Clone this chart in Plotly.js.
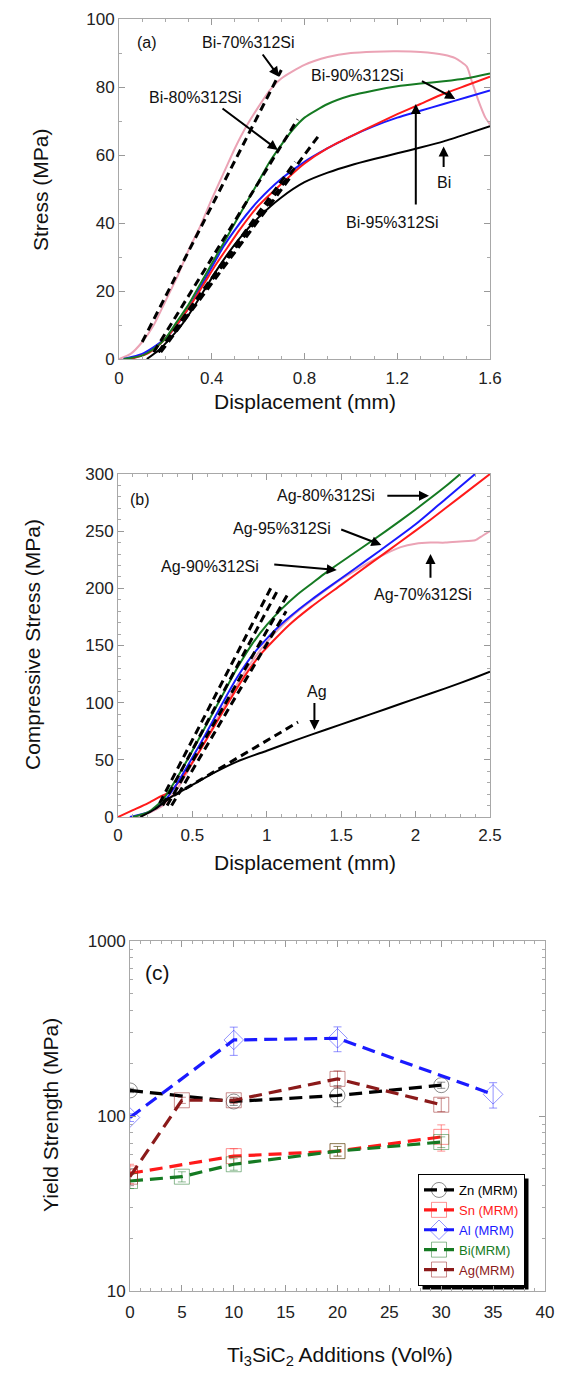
<!DOCTYPE html>
<html><head><meta charset="utf-8">
<script src="https://cdn.plot.ly/plotly-3.0.1.min.js"></script>
<style>html,body{margin:0;padding:0;background:#fff}#chart{width:563px;height:1382px}</style>
</head><body><div id="chart"></div>
<script>
// ---------- Panel (a): Bi composites ----------
const bi70_x = [0,0.05,0.1,0.15,0.2,0.25,0.3,0.35,0.4,0.45,0.5,0.55,0.6,0.65,0.7,0.8,0.9,1.0,1.1,1.2,1.3,1.4,1.45,1.5,1.52,1.55,1.58,1.6];
const bi70_y = [0,1.5,5,10,17,24,32,39,47,54.5,62,68.5,74,79,82.5,86.5,88.8,90,90.4,90.5,90.3,89.5,88.5,86,82,76,71,69];
const bi80_x = [0.02,0.1,0.15,0.2,0.25,0.3,0.35,0.4,0.45,0.5,0.55,0.6,0.65,0.7,0.75,0.8,0.9,1.0,1.1,1.2,1.3,1.4,1.5,1.6];
const bi80_y = [0,1,3,6,11,16,22,28,34,40,46,52,58,63,67.5,71,75,77.5,79,80.2,81,81.7,82.6,84];
const bi90_x = [0.02,0.1,0.15,0.2,0.25,0.3,0.35,0.4,0.45,0.5,0.55,0.6,0.7,0.8,0.9,1.0,1.1,1.2,1.3,1.4,1.5,1.6];
const bi90_y = [0,1.5,3.5,6,10,15,21,27,33,38,42.5,46.5,53,58,62,65.5,68.5,71,73,75,77,79];
const bi95_x = [0.05,0.12,0.17,0.22,0.27,0.32,0.37,0.42,0.47,0.52,0.6,0.7,0.8,0.9,1.0,1.1,1.2,1.3,1.4,1.5,1.6];
const bi95_y = [0,1.5,4,7.5,12,17,22.5,28,33,38,45,51.5,57.5,62,65.5,68.8,72,75,78,80.5,83];
const bi_x = [0.12,0.17,0.22,0.27,0.32,0.37,0.42,0.47,0.52,0.6,0.7,0.8,0.9,1.0,1.1,1.2,1.3,1.4,1.5,1.6];
const bi_y = [0,2.5,6,10,15,20.5,26,31,35.5,41.5,47.5,52,54.8,57,58.8,60.5,62.2,64,66.2,68.5];
// linear fits (dashed)
const fitA_x = [[0.1,0.70],[0.15,0.77],[0.17,0.87],[0.17,0.76],[0.18,0.74]];
const fitA_y = [[5,85],[2,70.5],[2,66.5],[2,58],[2,53.5]];

// ---------- Panel (b): Ag composites ----------
const ag80_x = [0.1,0.2,0.3,0.4,0.5,0.6,0.7,0.8,0.9,1.0,1.1,1.2,1.3,1.4,1.6,1.8,2.0,2.2,2.3];
const ag80_y = [0,4,15,35,58,82,106,130,151,168,182,194,204,214,232,250,269,289,300];
const ag95_x = [0.08,0.2,0.3,0.4,0.5,0.6,0.7,0.8,0.9,1.0,1.1,1.2,1.3,1.4,1.6,1.75,2.0,2.2,2.4];
const ag95_y = [0,4,12,30,52,75,99,122,141,156,169,180,190,199.5,218,232,256,278,300];
const ag90_x = [0,0.1,0.2,0.27,0.35,0.45,0.55,0.65,0.75,0.85,0.95,1.05,1.15,1.3,1.5,1.7,1.9,2.1,2.3,2.5];
const ag90_y = [0,6,12,17,22,38,58,80,102,123,141,155,168,184,203,222,241,260,280,300];
const ag70_x = [0.1,0.2,0.3,0.4,0.5,0.6,0.7,0.8,0.9,1.0,1.1,1.2,1.35,1.5,1.6,1.75,1.9,2.0,2.1,2.2,2.3,2.4,2.45,2.5];
const ag70_y = [0,3,10,25,47,70,94,116,136,153,167,179,194,208,216,227,236,239,240,240,241,242,246,250];
const ag_x = [0.15,0.25,0.35,0.5,0.65,0.8,1.0,1.2,1.4,1.6,1.8,2.0,2.2,2.4,2.5];
const ag_y = [0,7,17,28,39,48.5,58,67.5,76.5,85.5,94.5,103.5,112.5,122,127];
const fitB_x = [[0.28,1.03],[0.3,1.08],[0.33,1.15],[0.36,1.13],[0.3,1.21]];
const fitB_y = [[12,201],[10,200],[10,197],[10,180],[13,83]];

// ---------- Panel (c): yield strength ----------
const zn_x = [0,10,20,30];      const zn_y = [140,121,131,150]; const zn_e = [4,6,18,6];
const sn_x = [0,10,20,30];      const sn_y = [47,59,63,76];     const sn_e = [6,6,4,13];
const al_x = [0,10,20,35];      const al_y = [98,272,278,133];  const al_e = [5,50,45,22];
const bim_x = [0,5,10,20,30];   const bim_y = [42.5,45,53,63,71]; const bim_e = [4,3,4,4,5];
const agm_x = [0,5,10,20,30];   const agm_y = [45,123,123,163,116]; const agm_e = [5,5,5,18,10];
const c_names = ['Zn (MRM)','Sn (MRM)','Al (MRM)','Bi(MRM)','Ag(MRM)'];

const W = 563, H = 1382;
const PX = v => v / W, PY = v => 1 - v / H;

const PINK = '#eba3b5', GREEN = '#157a22', BLUE = '#1a1aff', RED = '#ff1a1a', BLACK = '#000';
const traces = [];
function line(x, y, color, xa, ya, w, dash) {
  traces.push({x, y, xaxis: xa, yaxis: ya, mode: 'lines', showlegend: false, hoverinfo: 'skip',
    line: {color, width: w || 2, dash: dash || 'solid', shape: 'spline', smoothing: 0.6}});
}
// panel a
line(bi70_x, bi70_y, PINK, 'x', 'y');
line(bi90_x, bi90_y, BLUE, 'x', 'y');
line(bi95_x, bi95_y, RED, 'x', 'y');
line(bi80_x, bi80_y, GREEN, 'x', 'y');
line(bi_x, bi_y, BLACK, 'x', 'y');
fitA_x.forEach((xx, i) => line(xx, fitA_y[i], BLACK, 'x', 'y', 3, '8px,5px'));
// panel b
line(ag70_x, ag70_y, PINK, 'x2', 'y2');
line(ag90_x, ag90_y, RED, 'x2', 'y2');
line(ag95_x, ag95_y, BLUE, 'x2', 'y2');
line(ag80_x, ag80_y, GREEN, 'x2', 'y2');
line(ag_x, ag_y, BLACK, 'x2', 'y2');
fitB_x.forEach((xx, i) => line(xx, fitB_y[i], BLACK, 'x2', 'y2', 3, '8px,5px'));
// panel c
const cSeries = [
  [zn_x, zn_y, zn_e, '#000000', 'rgba(0,0,0,0.45)', 'circle-open'],
  [sn_x, sn_y, sn_e, '#ff1a1a', 'rgba(255,40,40,0.5)', 'square-open'],
  [al_x, al_y, al_e, '#1a1aff', 'rgba(40,40,255,0.5)', 'diamond-open'],
  [bim_x, bim_y, bim_e, '#157a22', 'rgba(30,120,40,0.5)', 'square-open'],
  [agm_x, agm_y, agm_e, '#8b1a1a', 'rgba(150,30,30,0.5)', 'square-open']
];
cSeries.forEach((s, i) => {
  traces.push({x: s[0], y: s[1], xaxis: 'x3', yaxis: 'y3', mode: 'lines+markers',
    name: '<span style="color:' + s[3] + '">' + c_names[i] + '</span>',
    line: {color: s[3], width: 3.2, dash: '13px,7px'},
    marker: {symbol: s[5], size: 15, color: s[4], line: {width: 1}},
    error_y: {type: 'data', array: s[2], visible: true, color: s[4], thickness: 1, width: 4},
    hoverinfo: 'skip'});
});

const FONT = 'Liberation Sans, Arial, Helvetica, sans-serif';
const baseAx = {showline: true, linecolor: '#a8a8a8', linewidth: 1, mirror: 'allticks', ticks: 'inside',
  ticklen: 6, tickcolor: '#999', tickwidth: 1, showgrid: false, zeroline: false,
  tickfont: {family: FONT, size: 17, color: '#222'}, fixedrange: true};
function ax(o) { return Object.assign({}, baseAx, o); }

const ann = [];
function txt(x, y, text, xref, yref, size, extra) {
  ann.push(Object.assign({x, y, xref, yref, text, showarrow: false, xanchor: 'center', yanchor: 'middle',
    font: {family: FONT, size: size || 16, color: '#111'}}, extra || {}));
}
function arrow(x, y, ax_, ay_, xref, yref) {
  ann.push({x, y, ax: ax_, ay: ay_, xref, yref, axref: xref, ayref: yref, text: '',
    showarrow: true, arrowhead: 2, arrowsize: 1, arrowwidth: 2, arrowcolor: '#000', standoff: 0});
}
// panel a labels
txt(0.07, 93, '(a)', 'x', 'y', 16, {xanchor: 'left'});
txt(0.56, 93, 'Bi-70%312Si', 'x', 'y', 16);
arrow(0.69, 83, 0.615, 90, 'x', 'y');
txt(0.33, 77, 'Bi-80%312Si', 'x', 'y', 16);
arrow(0.685, 61.5, 0.44, 74, 'x', 'y');
txt(1.03, 83.5, 'Bi-90%312Si', 'x', 'y', 16);
arrow(1.45, 76.5, 1.30, 82, 'x', 'y');
txt(1.40, 52, 'Bi', 'x', 'y', 16);
arrow(1.40, 62.5, 1.40, 56, 'x', 'y');
txt(1.18, 40, 'Bi-95%312Si', 'x', 'y', 16);
arrow(1.28, 75, 1.28, 45, 'x', 'y');
// panel b labels
txt(0.07, 278, '(b)', 'x2', 'y2', 16, {xanchor: 'left'});
txt(1.40, 281, 'Ag-80%312Si', 'x2', 'y2', 16);
arrow(2.09, 281, 1.80, 281, 'x2', 'y2');
txt(1.10, 252, 'Ag-95%312Si', 'x2', 'y2', 16);
arrow(1.77, 238, 1.49, 252, 'x2', 'y2');
txt(0.62, 219, 'Ag-90%312Si', 'x2', 'y2', 16);
arrow(1.47, 216, 1.04, 221, 'x2', 'y2');
txt(2.05, 195, 'Ag-70%312Si', 'x2', 'y2', 16);
arrow(2.10, 230, 2.10, 208, 'x2', 'y2');
txt(1.34, 110, 'Ag', 'x2', 'y2', 16);
arrow(1.32, 76, 1.32, 101, 'x2', 'y2');
// panel c label
txt(PX(157), PY(972), '(c)', 'paper', 'paper', 21);
// axis titles
txt(PX(40), PY(190), 'Stress (MPa)', 'paper', 'paper', 21, {textangle: -90});
txt(PX(305), PY(401), 'Displacement (mm)', 'paper', 'paper', 21);
txt(PX(32), PY(645), 'Compressive Stress (MPa)', 'paper', 'paper', 21, {textangle: -90});
txt(PX(305), PY(862), 'Displacement (mm)', 'paper', 'paper', 21);
txt(PX(50), PY(1115), 'Yield Strength (MPa)', 'paper', 'paper', 21, {textangle: -90});
txt(PX(340), PY(1356), 'Ti<sub>3</sub>SiC<sub>2</sub> Additions (Vol%)', 'paper', 'paper', 21);

const layout = {
  width: W, height: H, margin: {l: 0, r: 0, t: 0, b: 0}, paper_bgcolor: '#fff', plot_bgcolor: 'rgba(0,0,0,0)',
  font: {family: FONT, color: '#111'},
  xaxis: ax({domain: [PX(119), PX(490)], range: [0, 1.6], anchor: 'y', dtick: 0.4, tick0: 0,
    tickformat: '~g', ticklabelstandoff: 4, minor: {dtick: 0.1, ticks: 'inside', ticklen: 3, tickcolor: '#aaa'}}),
  yaxis: ax({domain: [PY(359), PY(19)], range: [0, 100], anchor: 'x', dtick: 20,
    minor: {dtick: 10, ticks: 'inside', ticklen: 3, tickcolor: '#aaa'}}),
  xaxis2: ax({domain: [PX(118), PX(490)], range: [0, 2.5], anchor: 'y2', dtick: 0.5, tick0: 0,
    ticklabelstandoff: 3, minor: {dtick: 0.1, ticks: 'inside', ticklen: 3, tickcolor: '#aaa'}}),
  yaxis2: ax({domain: [PY(817), PY(474)], range: [0, 300], anchor: 'x2', dtick: 50,
    minor: {dtick: 10, ticks: 'inside', ticklen: 3, tickcolor: '#aaa'}}),
  xaxis3: ax({domain: [PX(130), PX(545)], range: [0, 40], anchor: 'y3', dtick: 5, tick0: 0,
    ticklabelstandoff: 6, minor: {dtick: 1, ticks: 'inside', ticklen: 3, tickcolor: '#aaa'}}),
  yaxis3: ax({domain: [PY(1291), PY(941)], type: 'log', range: [1, 3], anchor: 'x3',
    tickvals: [10, 100, 1000], ticktext: ['10', '100', '1000'],
    minor: {tickvals: [20,30,40,50,60,70,80,90,200,300,400,500,600,700,800,900], ticks: 'inside', ticklen: 3, tickcolor: '#aaa'}}),
  showlegend: true,
  legend: {x: PX(418), y: PY(1174), xanchor: 'left', yanchor: 'top', bgcolor: '#fff',
    bordercolor: '#000', borderwidth: 1, font: {family: FONT, size: 13, color: '#000'},
    tracegroupgap: 0, itemwidth: 30},
  annotations: ann
};
Plotly.newPlot('chart', traces, layout, {displayModeBar: false, staticPlot: true}).then(gd => {
  const bg = document.querySelector('.legend .bg');
  if (!bg) return;
  const bb = bg.getBoundingClientRect();
  const o = 4;
  return Plotly.relayout(gd, {shapes: [{type: 'rect', xref: 'paper', yref: 'paper', layer: 'below',
    x0: PX(bb.left + o), x1: PX(bb.right + o), y0: PY(bb.bottom + o), y1: PY(bb.top + o),
    fillcolor: '#000', line: {width: 0}}]});
});
</script></body></html>
